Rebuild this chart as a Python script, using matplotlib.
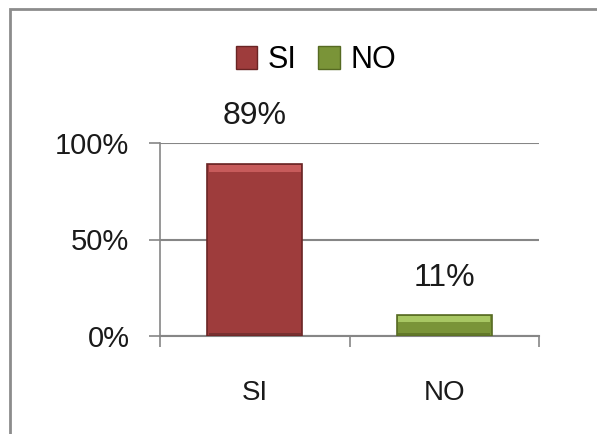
import matplotlib
matplotlib.use("Agg")
from matplotlib import pyplot as plt
from matplotlib.patches import Rectangle, Patch
import numpy as np

plt.rcParams['font.family'] = ['Liberation Sans Narrow', 'Liberation Sans', 'DejaVu Sans']

categories = ["SI", "NO"]
values = [0.89, 0.11]
value_labels = ["89%", "11%"]
ytick_vals = [0, 0.5, 1.0]
ytick_labels = ["0%", "50%", "100%"]

face = ["#9e3c3c", "#7a9438"]
edge = ["#6a2424", "#566a22"]
light = ["#d26464", "#b4d46e"]
dark = ["#6e2e2e", "#5d7226"]
label_offset = [0.25, 0.19]

W, H = 597, 434
fig = plt.figure(figsize=(W / 100, H / 100), dpi=100)

# outer chart frame (runs off the right and bottom edges)
fig.patches.append(Rectangle((10 / W, -0.1), 1.2, 1 - 9 / H + 0.1,
                             transform=fig.transFigure, fill=False,
                             edgecolor="#8c8c8c", linewidth=2))

ax = fig.add_axes([160 / W, 1 - 336 / H, 379 / W, 193 / H])
x = np.arange(len(categories))
width = 0.5

# bars with a simple bevel look
ax.bar(x, values, width, color=face, edgecolor=edge, linewidth=1.2, zorder=3)
bevel = 0.035
ax.bar(x, [bevel] * len(values), width * 0.97,
       bottom=[v - bevel - 0.004 for v in values],
       color=light, linewidth=0, zorder=4, alpha=0.8)
ax.bar(x, [0.015] * len(values), width * 0.97, bottom=0.003,
       color=dark, linewidth=0, zorder=4, alpha=0.8)

for xi, v, lab, off in zip(x, values, value_labels, label_offset):
    ax.text(xi, v + off, lab, ha="center", va="center", fontsize=23, color="#1a1a1a")

ax.set_xlim(-0.5, 1.5)
ax.set_ylim(0, 1)
ax.set_yticks(ytick_vals)
ax.set_yticklabels(ytick_labels, fontsize=21, color="#1a1a1a")
ax.set_xticks(x)
ax.set_xticklabels(categories, fontsize=20, color="#1a1a1a")
ax.tick_params(axis="x", which="major", length=0, pad=32)
ax.set_xticks([-0.5, 0.5, 1.5], minor=True)
ax.tick_params(axis="x", which="minor", length=8, width=1.2, color="#868686", direction="out")
ax.tick_params(axis="y", length=8, width=1.2, color="#868686", direction="out", pad=14)

ax.yaxis.grid(True, color="#868686", linewidth=1.5, zorder=0)
ax.set_axisbelow(True)
for s in ["top", "right"]:
    ax.spines[s].set_visible(False)
ax.spines["left"].set_color("#868686")
ax.spines["bottom"].set_color("#868686")
ax.spines["left"].set_linewidth(1.2)
ax.spines["bottom"].set_linewidth(1.5)

handles = [Patch(facecolor=face[i], edgecolor=edge[i], label=categories[i]) for i in range(2)]
fig.legend(handles=handles, loc="center", bbox_to_anchor=(316 / W, 1 - 60 / H),
           ncol=2, frameon=False, fontsize=22, handlelength=0.7, handleheight=0.75,
           handletextpad=0.35, columnspacing=0.7)

fig.savefig("out.png", dpi=100)
